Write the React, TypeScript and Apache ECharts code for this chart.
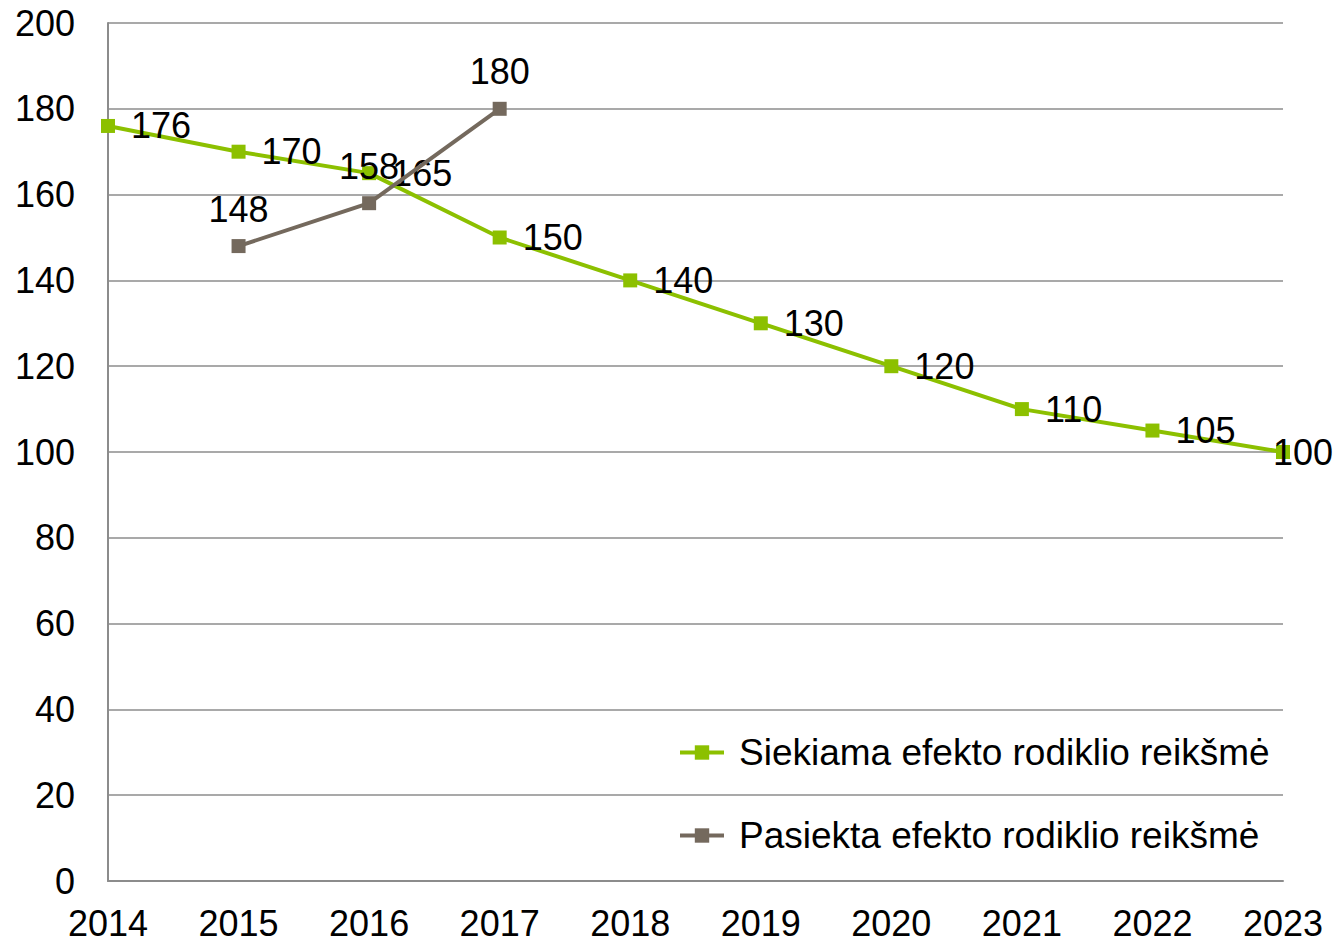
import React, { useEffect, useRef } from "react";
import * as echarts from "echarts";

const years = ["2014", "2015", "2016", "2017", "2018", "2019", "2020", "2021", "2022", "2023"];
const targetName = "Siekiama efekto rodiklio reikšmė";
const actualName = "Pasiekta efekto rodiklio reikšmė";
const targetValues = [176, 170, 165, 150, 140, 130, 120, 110, 105, 100];
const actualValues: (number | null)[] = [null, 148, 158, 180, null, null, null, null, null, null];

const FONT = "'Liberation Sans', Arial, sans-serif";
const GREEN = "#8cc000";
const GRAY = "#74695d";
const FS = 36;

export default function App() {
  const ref = useRef<HTMLDivElement>(null);
  useEffect(() => {
    if (!ref.current) return;
    const chart = echarts.init(ref.current, undefined, { renderer: "svg" });
    const targetData = targetValues.map((v, i) =>
      i === targetValues.length - 1
        ? { value: v, label: { position: "inside", offset: [20, 0] } }
        : v
    );
    chart.setOption({
      animation: false,
      backgroundColor: "#ffffff",
      textStyle: { fontFamily: FONT },
      grid: { left: 108, right: 52, top: 23, bottom: 61, containLabel: false },
      legend: {
        orient: "vertical",
        left: 673,
        top: 729,
        itemGap: 46,
        itemWidth: 44,
        itemHeight: 18,
        data: [targetName, actualName],
        lineStyle: { width: 4 },
        textStyle: { fontSize: 37, color: "#000", fontFamily: FONT, padding: [0, 0, 0, 10] },
      },
      xAxis: {
        type: "category",
        data: years,
        boundaryGap: false,
        axisLine: { lineStyle: { color: "#8c8c8c", width: 2 } },
        axisTick: { show: false },
        axisLabel: { fontSize: FS, color: "#000", fontFamily: FONT, margin: 24, showMaxLabel: true },
        splitLine: { show: false },
      },
      yAxis: {
        type: "value",
        min: 0,
        max: 200,
        interval: 20,
        axisLine: { show: true, lineStyle: { color: "#8c8c8c", width: 2 } },
        axisTick: { show: false },
        axisLabel: { fontSize: FS, color: "#000", fontFamily: FONT, margin: 33 },
        splitLine: { lineStyle: { color: "#8c8c8c", width: 1.5 } },
      },
      series: [
        {
          name: targetName,
          type: "line",
          data: targetData,
          symbol: "rect",
          symbolSize: 14,
          itemStyle: { color: GREEN },
          lineStyle: { color: GREEN, width: 4 },
          label: {
            show: true,
            position: "right",
            distance: 16,
            fontSize: FS,
            color: "#000",
            fontFamily: FONT,
          },
          z: 2,
        },
        {
          name: actualName,
          type: "line",
          data: actualValues,
          symbol: "rect",
          symbolSize: 14,
          itemStyle: { color: GRAY },
          lineStyle: { color: GRAY, width: 4 },
          label: {
            show: true,
            position: "top",
            distance: 12,
            fontSize: FS,
            color: "#000",
            fontFamily: FONT,
          },
          z: 3,
        },
      ],
    });
    return () => chart.dispose();
  }, []);
  return (
    <div
      ref={ref}
      style={{ position: "absolute", left: 0, top: 0, width: 1335, height: 942, background: "#fff" }}
    />
  );
}
